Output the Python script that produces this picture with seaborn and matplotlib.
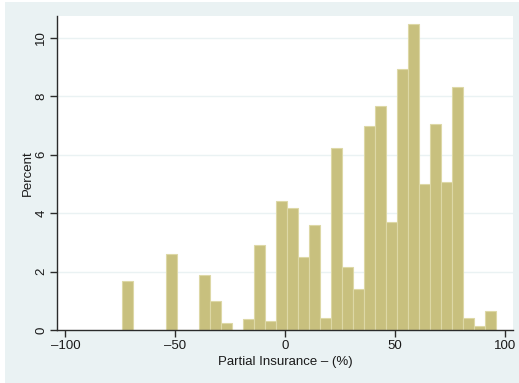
import numpy as np
import pandas as pd
import matplotlib
matplotlib.use("Agg")
import matplotlib.pyplot as plt
from matplotlib.patches import Rectangle
import seaborn as sns

# Histogram of partial insurance (%), share of observations per 5-point bin
bin_start = -74.3
bin_width = 5.0
percent = [1.68, 0, 0, 0, 2.59, 0, 0, 1.87, 0.98, 0.23,
           0, 0.37, 2.91, 0.31, 4.40, 4.19, 2.50, 3.58, 0.42, 6.23,
           2.17, 1.42, 6.97, 7.66, 3.69, 8.94, 10.49, 5.00, 7.05, 5.08,
           8.32, 0.41, 0.15, 0.65]
x_ticks = [-100, -50, 0, 50, 100]
x_tick_labels = ["\u2013100", "\u201350", "0", "50", "100"]
y_ticks = [0, 2, 4, 6, 8, 10]

edges = bin_start + bin_width * np.arange(len(percent) + 1)
centers = (edges[:-1] + edges[1:]) / 2
df = pd.DataFrame({"insurance": centers, "percent": percent})

sns.set_theme(style="white")
plt.rcParams["font.family"] = ["Liberation Sans", "DejaVu Sans"]

bg = "#EAF2F3"
fig = plt.figure(figsize=(5.19, 3.83), dpi=100, facecolor="white")
fig.patches.append(Rectangle((5 / 519, 0), 1 - 5 / 519, 1 - 2 / 383,
                             transform=fig.transFigure, facecolor=bg,
                             edgecolor="none", zorder=-10))
ax = fig.add_axes([57 / 519, 1 - 330 / 383, (513 - 57) / 519, (330 - 16) / 383])
ax.set_facecolor("white")

sns.histplot(data=df, x="insurance", weights="percent",
             binwidth=bin_width, binrange=(float(edges[0]), float(edges[-1])),
             stat="count", color="#C8C07E", alpha=1.0,
             edgecolor="#DDD8A6", linewidth=0.8, ax=ax, zorder=3)

ax.set_xlim(-103.8, 103.6)
ax.set_ylim(0, 10.75)
ax.set_xticks(x_ticks)
ax.set_xticklabels(x_tick_labels)
ax.set_yticks(y_ticks)
ax.set_yticklabels([str(v) for v in y_ticks], rotation=90, va="center")

for v in y_ticks[1:]:
    ax.axhline(v, color=bg, linewidth=1.0, zorder=1)

for side in ("top", "right"):
    ax.spines[side].set_visible(False)
for side in ("left", "bottom"):
    ax.spines[side].set_visible(True)
    ax.spines[side].set_color("#2B2B2B")
    ax.spines[side].set_linewidth(1.0)
    ax.spines[side].set_zorder(5)

ax.tick_params(axis="both", direction="out", length=5, width=1.0,
               color="#2B2B2B", labelsize=9.5, labelcolor="#1A1A1A", pad=2)
ax.tick_params(axis="x", bottom=True)
ax.tick_params(axis="y", left=True)

ax.set_xlabel("Partial Insurance \u2013 (%)", fontsize=9.5, color="#1A1A1A", labelpad=3)
ax.set_ylabel("Percent", fontsize=9.5, color="#1A1A1A", labelpad=1)

fig.savefig("out.png", dpi=100, facecolor=fig.get_facecolor())
